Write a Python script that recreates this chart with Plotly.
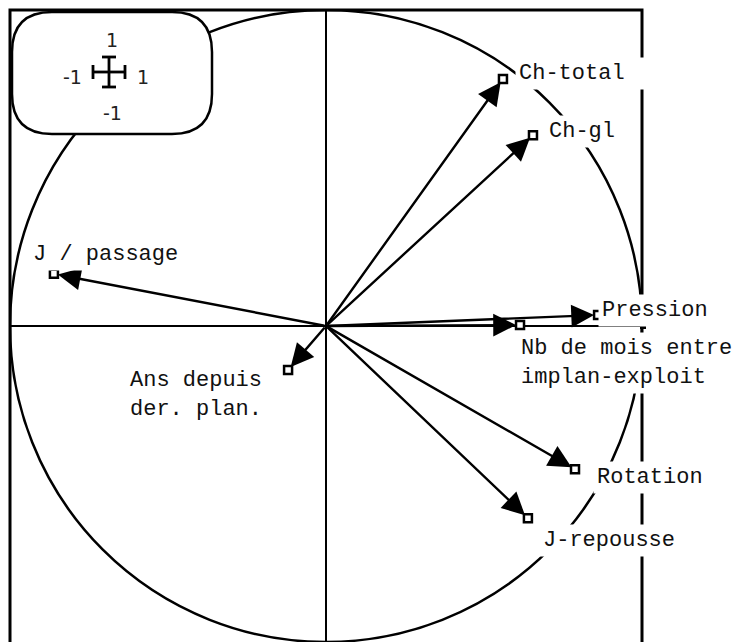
import plotly.graph_objects as go

# correlation circle: coordinates of each variable on factorial axes 1 and 2
variables = ['Ch-total', 'Ch-gl', 'J / passage', 'Pression',
             'Nb de mois entre<br>implan-exploit', 'Ans depuis<br>der. plan.',
             'Rotation', 'J-repousse']
axis1 = [0.560, 0.655, -0.861, 0.861, 0.614, -0.120, 0.788, 0.639]
axis2 = [0.782, 0.604, 0.165, 0.035, 0.003, -0.139, -0.453, -0.608]

# scale key in the corner
key_ticks = ['1', '-1', '1', '-1']

# label placement relative to arrow tip (pixel shift right, pixel shift down, anchor, box width)
LABEL_POS = [(12, -5, 'left', 140), (12, -4, 'left', None), (-25, -19, 'left', None),
             (0, -4, 'left', None), (-3, 38, 'left', None), (-22, 25, 'right', None),
             (18, 8, 'left', None), (11, 22, 'left', None)]

# the page body adds an 8 px margin, so the figure is drawn 8 px in
PAGE = 8
W, H = 742 - PAGE, 642 - PAGE
LEFT, TOP, SIDE = 10, 10, 632
R = SIDE / 2
CX, CY = LEFT + R, TOP + R
MONO = 'Liberation Mono, Courier New, monospace'


def px_x(px):
    return (px - CX) / R


def px_y(py):
    return (CY - py) / R


fig = go.Figure()

shapes = []
# unit circle
shapes.append(dict(type='circle', xref='x', yref='y', x0=-1, y0=-1, x1=1, y1=1,
                   line=dict(color='black', width=2.5), layer='below'))
# frame on the plot edges (paper refs are not clipped); bottom edge is off the page
shapes.append(dict(type='path', xref='paper', yref='paper',
                   path='M 0,-0.05 L 0,1 L 1,1 L 1,-0.05',
                   line=dict(color='black', width=3), layer='below'))
# axes
shapes.append(dict(type='line', xref='x', yref='y', x0=-1, y0=0, x1=1, y1=0,
                   line=dict(color='black', width=2), layer='below'))
shapes.append(dict(type='line', xref='x', yref='y', x0=0, y0=-1.05, x1=0, y1=1,
                   line=dict(color='black', width=2), layer='below'))
shapes.append(dict(type='rect', xref='paper', yref='y',
                   x0=1 - 2 / SIDE, x1=1 + 4 / SIDE, y0=px_y(329), y1=px_y(323),
                   fillcolor='black', line=dict(width=0), layer='below'))

# rounded key box
x0, x1, y0, y1, r = px_x(12), px_x(212), px_y(134), px_y(12), 40 / R
box = (f'M {x0 + r},{y1} L {x1 - r},{y1} Q {x1},{y1} {x1},{y1 - r} '
       f'L {x1},{y0 + r} Q {x1},{y0} {x1 - r},{y0} L {x0 + r},{y0} '
       f'Q {x0},{y0} {x0},{y0 + r} L {x0},{y1 - r} Q {x0},{y1} {x0 + r},{y1} Z')
shapes.append(dict(type='path', xref='x', yref='y', path=box, fillcolor='white',
                   line=dict(color='black', width=2.5), layer='below'))

# key cross with end caps
kx, ky = 109, 72
for a, b in [((93, ky), (125, ky)), ((kx, 57), (kx, 87)),
             ((93, ky - 7), (93, ky + 7)), ((125, ky - 7), (125, ky + 7)),
             ((kx - 7, 57), (kx + 7, 57)), ((kx - 7, 87), (kx + 7, 87))]:
    shapes.append(dict(type='line', xref='x', yref='y',
                       x0=px_x(a[0]), y0=px_y(a[1]), x1=px_x(b[0]), y1=px_y(b[1]),
                       line=dict(color='black', width=2.8), layer='below'))

# tip markers
fig.add_trace(go.Scatter(
    x=axis1, y=axis2, mode='markers', hoverinfo='text',
    text=[v.replace('<br>', ' ') for v in variables],
    marker=dict(symbol='square', size=8, color='white',
                line=dict(color='black', width=2.5)),
    showlegend=False,
))

annotations = []
# arrows from the origin
for x, y in zip(axis1, axis2):
    annotations.append(dict(
        x=x, y=y, ax=0, ay=0, xref='x', yref='y', axref='x', ayref='y',
        text='', showarrow=True, arrowhead=2, arrowsize=1.9, arrowwidth=2.4,
        arrowcolor='black', standoff=4,
    ))

# variable labels (white boxes hide the lines behind them)
for name, x, y, (dx, dy, anchor, bw) in zip(variables, axis1, axis2, LABEL_POS):
    ann = dict(
        x=x, y=y, xref='x', yref='y', text=name, showarrow=False,
        xanchor=anchor, yanchor='middle', align=anchor,
        xshift=dx, yshift=-dy, bgcolor='white', borderpad=3,
        font=dict(family=MONO, size=22, color='#111'),
    )
    if bw:
        ann['width'] = bw
    annotations.append(ann)

# key tick labels
for t, (px, py) in zip(key_ticks, [(112, 40), (72, 77), (143, 77), (112, 113)]):
    annotations.append(dict(
        x=px_x(px), y=px_y(py), xref='x', yref='y', text=t, showarrow=False,
        xanchor='center', yanchor='middle',
        font=dict(family='DejaVu Sans, sans-serif', size=19, color='#222'),
    ))

fig.update_layout(
    width=W, height=H, autosize=False,
    margin=dict(l=LEFT - PAGE, r=W - (LEFT - PAGE) - SIDE, t=TOP - PAGE,
                b=H - (TOP - PAGE) - SIDE),
    paper_bgcolor='white', plot_bgcolor='white',
    xaxis=dict(range=[-1, 1], visible=False, fixedrange=True),
    yaxis=dict(range=[-1, 1], visible=False, fixedrange=True),
    shapes=shapes, annotations=annotations,
    showlegend=False,
)

fig.write_html('out.html')
